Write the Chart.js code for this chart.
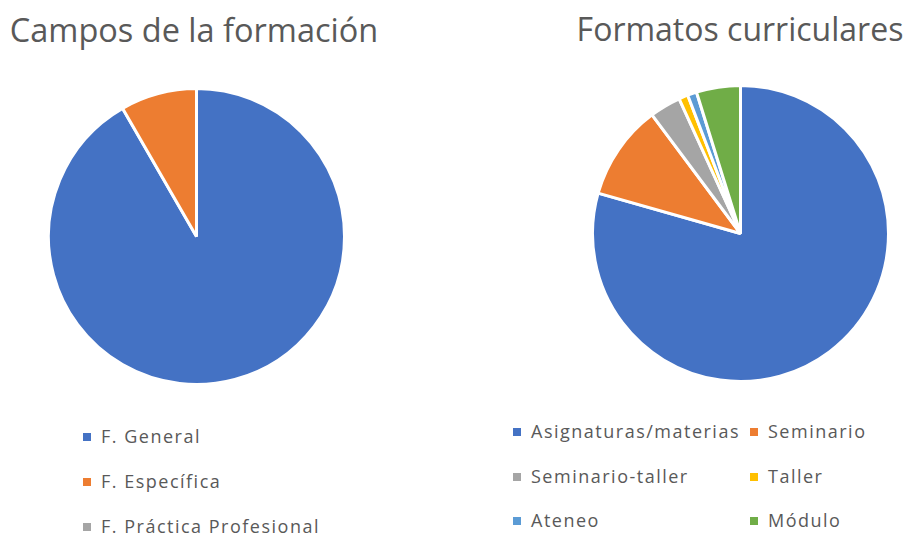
<!DOCTYPE html>
<html>
<head>
<meta charset="utf-8">
<script src="https://cdn.jsdelivr.net/npm/chart.js@4/dist/chart.umd.min.js"></script>
<style>
  body { margin: 0; background: #fff; width: 906px; height: 535px; overflow: hidden; position: relative; font-family: "Open Sans", sans-serif; color: #595959; }
  .title { position: absolute; font-size: 32.5px; white-space: nowrap; transform: translateX(-50%); top: 7px; }
  .pie { position: absolute; }
  .item { position: absolute; font-size: 18px; letter-spacing: 1.5px; white-space: nowrap; }
  .item span { display: inline-block; width: 8px; height: 8px; margin-right: 10px; vertical-align: 2px; }
</style>
</head>
<body>
<div class="title" style="left:194px">Campos de la formación</div>
<div class="title" style="left:740px;font-size:32px">Formatos curriculares</div>
<div class="pie" style="left:47px;top:87px;width:299px;height:299px"><canvas id="camposChart"></canvas></div>
<div class="pie" style="left:591px;top:84px;width:299px;height:299px"><canvas id="formatosChart"></canvas></div>
<div id="legends"></div>
<script>
// Data
var camposLabels = ['F. General', 'F. Específica', 'F. Práctica Profesional'];
var camposValues = [33, 3, 0];
var camposColors = ['#4472C4', '#ED7D31', '#A5A5A5'];

var formatosLabels = ['Asignaturas/materias', 'Seminario', 'Seminario-taller', 'Taller', 'Ateneo', 'Módulo'];
var formatosValues = [79.4, 10.4, 3.4, 1.0, 1.0, 4.8];
var formatosColors = ['#4472C4', '#ED7D31', '#A5A5A5', '#FFC000', '#5B9BD5', '#70AD47'];

function makePie(id, labels, values, colors) {
    return new Chart(document.getElementById(id).getContext('2d'), {
        type: 'pie',
        data: {
            labels: labels,
            datasets: [{
                data: values,
                backgroundColor: colors,
                borderColor: '#ffffff',
                borderWidth: 3
            }]
        },
        options: {
            responsive: true,
            maintainAspectRatio: false,
            animation: false,
            plugins: {
                legend: { display: false },
                tooltip: { enabled: false }
            }
        }
    });
}

var camposChart = makePie('camposChart', camposLabels, camposValues, camposColors);
var formatosChart = makePie('formatosChart', formatosLabels, formatosValues, formatosColors);

// HTML legends built from the chart's own legend items
function addLegend(chart, positions) {
    var items = chart.options.plugins.legend.labels.generateLabels(chart);
    var box = document.getElementById('legends');
    items.forEach(function (it, i) {
        var d = document.createElement('div');
        d.className = 'item';
        d.style.left = positions[i][0] + 'px';
        d.style.top = positions[i][1] + 'px';
        var s = document.createElement('span');
        s.style.background = it.fillStyle;
        d.appendChild(s);
        d.appendChild(document.createTextNode(it.text));
        box.appendChild(d);
    });
}

addLegend(camposChart, [[83, 424], [83, 469], [83, 514]]);
addLegend(formatosChart, [[513, 419], [750, 419], [513, 464], [750, 464], [513, 508], [750, 508]]);
</script>
</body>
</html>
